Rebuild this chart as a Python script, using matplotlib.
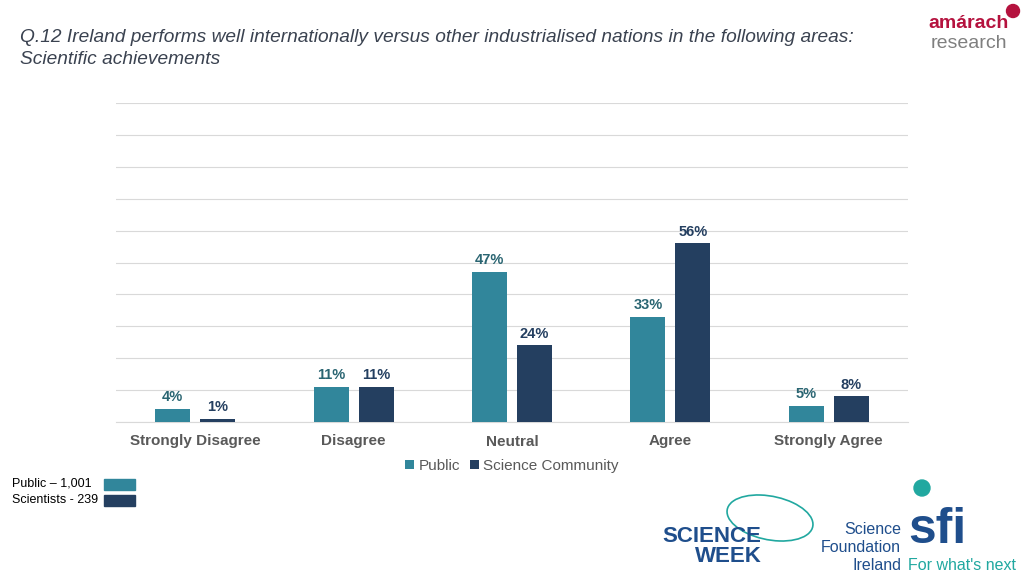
import numpy as np
import matplotlib.pyplot as plt
from matplotlib.patches import Rectangle, Ellipse

plt.rcParams['font.family'] = ['Liberation Sans', 'DejaVu Sans']

categories = ['Strongly Disagree', 'Disagree', 'Neutral', 'Agree', 'Strongly Agree']
public = [4, 11, 47, 33, 5]
scientists = [1, 11, 24, 56, 8]
series_names = ['Public', 'Science Community']
sample_labels = ['Public \u2013 1,001', 'Scientists - 239']

PUB_COL = '#31869b'
SCI_COL = '#243f60'

fig = plt.figure(figsize=(10.24, 5.76), dpi=100)
W, H = 1024, 576

# plot area in pixel coords -> figure fraction
ax = fig.add_axes([116 / W, 1 - 422 / H, (908 - 116) / W, (422 - 103) / H])
x = np.arange(len(categories))
bw = 0.22
off = 0.142
b1 = ax.bar(x - off, public, bw, color=PUB_COL, label=series_names[0], zorder=3)
b2 = ax.bar(x + off, scientists, bw, color=SCI_COL, label=series_names[1], zorder=3)

for rect, v in zip(b1, public):
    ax.text(rect.get_x() + rect.get_width() / 2, v + 1.5, f'{v}%', ha='center', va='bottom',
            fontsize=10.5, fontweight='bold', color='#2a6572')
for rect, v in zip(b2, scientists):
    ax.text(rect.get_x() + rect.get_width() / 2, v + 1.5, f'{v}%', ha='center', va='bottom',
            fontsize=10.5, fontweight='bold', color='#243f60')

ax.set_xlim(-0.5, len(categories) - 0.5)
ax.set_ylim(0, 100)
ax.set_yticks(np.arange(0, 101, 10))
ax.yaxis.grid(True, color='#d9d9d9', linewidth=0.8, zorder=0)
ax.set_yticklabels([])
ax.tick_params(axis='y', length=0)
ax.tick_params(axis='x', length=0, pad=9)
ax.set_xticks(x)
ax.set_xticklabels(categories, fontsize=11, fontweight='bold', color='#595959')
for s in ['top', 'right', 'left']:
    ax.spines[s].set_visible(False)
ax.spines['bottom'].set_color('#d9d9d9')

leg = ax.legend(loc='center', bbox_to_anchor=(0.5, -0.138), ncol=2, frameon=False,
                fontsize=11, handlelength=0.6, handleheight=0.6, handletextpad=0.3,
                columnspacing=0.6)
for t in leg.get_texts():
    t.set_color('#595959')

# title
fig.text(20 / W, 1 - 37 / H, 'Q.12 Ireland performs well internationally versus other industrialised nations in the following areas:',
         fontsize=13.8, style='italic', color='#3a4250', va='center')
fig.text(20 / W, 1 - 60 / H, 'Scientific achievements', fontsize=13.8, style='italic',
         color='#3a4250', va='center')

# sample sizes
fig.text(12 / W, 1 - 484 / H, sample_labels[0], fontsize=9, color='black', va='center')
fig.text(12 / W, 1 - 500 / H, sample_labels[1], fontsize=9, color='black', va='center')
fig.patches.append(Rectangle((104 / W, 1 - 490 / H), 31 / W, 11 / H, transform=fig.transFigure,
                             color=PUB_COL))
fig.patches.append(Rectangle((104 / W, 1 - 506 / H), 31 / W, 11 / H, transform=fig.transFigure,
                             color=SCI_COL))

# amarach logo
fig.text(969 / W, 1 - 24 / H, 'am\u00e1rach', fontsize=14, fontweight='bold', color='#b5123e',
         ha='center', va='center')
fig.text(969 / W, 1 - 43 / H, 'research', fontsize=14, color='#7f7f7f', ha='center', va='center')
fig.patches.append(Ellipse((1013 / W, 1 - 11 / H), 13 / W, 13 / H, transform=fig.transFigure,
                           color='#b5123e'))

# science week logo
fig.patches.append(Ellipse((770 / W, 1 - 518 / H), 95 / W, 40 / H, angle=-40,
                           transform=fig.transFigure, fill=False, edgecolor='#21a8a0', lw=1.2))
fig.text(712 / W, 1 - 536 / H, 'SCIENCE', fontsize=16, fontweight='bold', color='#1f4e8c',
         ha='center', va='center')
fig.text(728 / W, 1 - 557 / H, 'WEEK', fontsize=16, fontweight='bold', color='#1f4e8c',
         ha='center', va='center')

# sfi logo
fig.text(901 / W, 1 - 530 / H, 'Science', fontsize=11.5, color='#1f4e8c', ha='right', va='center')
fig.text(901 / W, 1 - 548 / H, 'Foundation', fontsize=11.5, color='#1f4e8c', ha='right', va='center')
fig.text(901 / W, 1 - 565 / H, 'Ireland', fontsize=11.5, color='#1f4e8c', ha='right', va='center')
fig.text(908 / W, 1 - 530 / H, 'sfi', fontsize=36, fontweight='bold', color='#1f4e8c',
         ha='left', va='center')
fig.text(908 / W, 1 - 565 / H, "For what's next", fontsize=11.5, color='#21a8a0', ha='left',
         va='center')
fig.patches.append(Ellipse((922 / W, 1 - 488 / H), 16 / W, 16 / H, transform=fig.transFigure,
                           color='#21a8a0'))

fig.savefig('out.png', dpi=100)
